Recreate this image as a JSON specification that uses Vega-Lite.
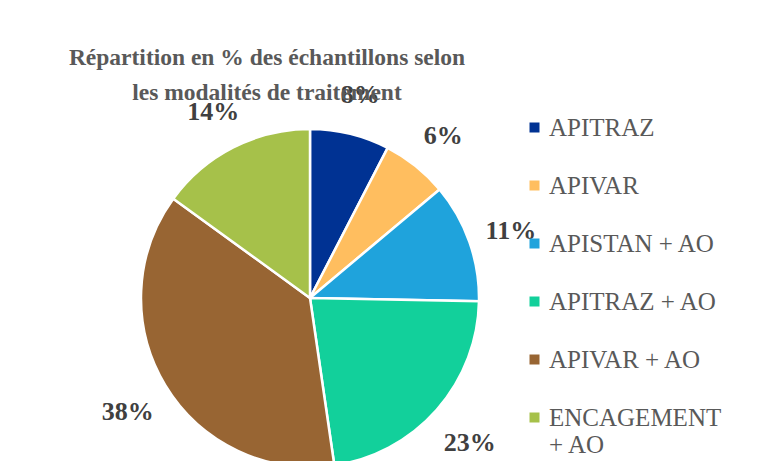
{
  "$schema": "https://vega.github.io/schema/vega-lite/v6.json",
  "autosize": "none",
  "width": 620,
  "height": 596,
  "padding": {"left": 0, "top": 0, "right": 147, "bottom": 0},
  "background": "white",
  "config": {"view": {"stroke": null}},
  "title": {
    "text": ["Répartition en % des  échantillons selon", "les modalités de traitement"],
    "font": "Liberation Serif",
    "fontSize": 23.5,
    "fontWeight": "bold",
    "color": "#595959",
    "lineHeight": 35,
    "anchor": "middle",
    "frame": "group",
    "orient": "top",
    "dx": -43,
    "offset": -104
  },
  "data": {
    "values": [
      {"modalite": "APITRAZ", "rang": 1, "valeur": 7.6, "etiquette": "8%"},
      {"modalite": "APIVAR", "rang": 2, "valeur": 6.3, "etiquette": "6%"},
      {"modalite": "APISTAN + AO", "rang": 3, "valeur": 11.4, "etiquette": "11%"},
      {"modalite": "APITRAZ + AO", "rang": 4, "valeur": 22.4, "etiquette": "23%"},
      {"modalite": "APIVAR + AO", "rang": 5, "valeur": 37.3, "etiquette": "38%"},
      {"modalite": "ENCAGEMENT + AO", "rang": 6, "valeur": 15.0, "etiquette": "14%"}
    ]
  },
  "encoding": {
    "theta": {"field": "valeur", "type": "quantitative", "stack": true},
    "order": {"field": "rang", "type": "quantitative"}
  },
  "layer": [
    {
      "mark": {"type": "arc", "radius": 169, "stroke": "white", "strokeWidth": 2.5},
      "encoding": {
        "color": {
          "field": "modalite",
          "type": "nominal",
          "sort": ["APITRAZ", "APIVAR", "APISTAN + AO", "APITRAZ + AO", "APIVAR + AO", "ENCAGEMENT + AO"],
          "scale": {
            "domain": ["APITRAZ", "APIVAR", "APISTAN + AO", "APITRAZ + AO", "APIVAR + AO", "ENCAGEMENT + AO"],
            "range": ["#003293", "#FFBE5F", "#1FA3DC", "#12D09B", "#986533", "#A6C14A"]
          },
          "legend": {
            "title": null,
            "orient": "none",
            "legendX": 522,
            "legendY": 115,
            "padding": 0,
            "symbolType": "square",
            "symbolSize": 100,
            "symbolStrokeWidth": 0,
            "labelFont": "Liberation Serif",
            "labelFontSize": 25,
            "labelColor": "#595959",
            "labelOffset": 2,
            "labelLimit": 300,
            "rowPadding": 32,
            "labelLineHeight": 32,
            "labelExpr": "datum.label == 'ENCAGEMENT + AO' ? ['ENCAGEMENT', '+ AO'] : datum.label"
          }
        }
      }
    },
    {
      "mark": {
        "type": "text",
        "radius": 213,
        "dy": 4,
        "font": "Liberation Serif",
        "fontSize": 26,
        "fontWeight": "bold",
        "color": "#404040"
      },
      "encoding": {
        "text": {"field": "etiquette", "type": "nominal"}
      }
    }
  ]
}
